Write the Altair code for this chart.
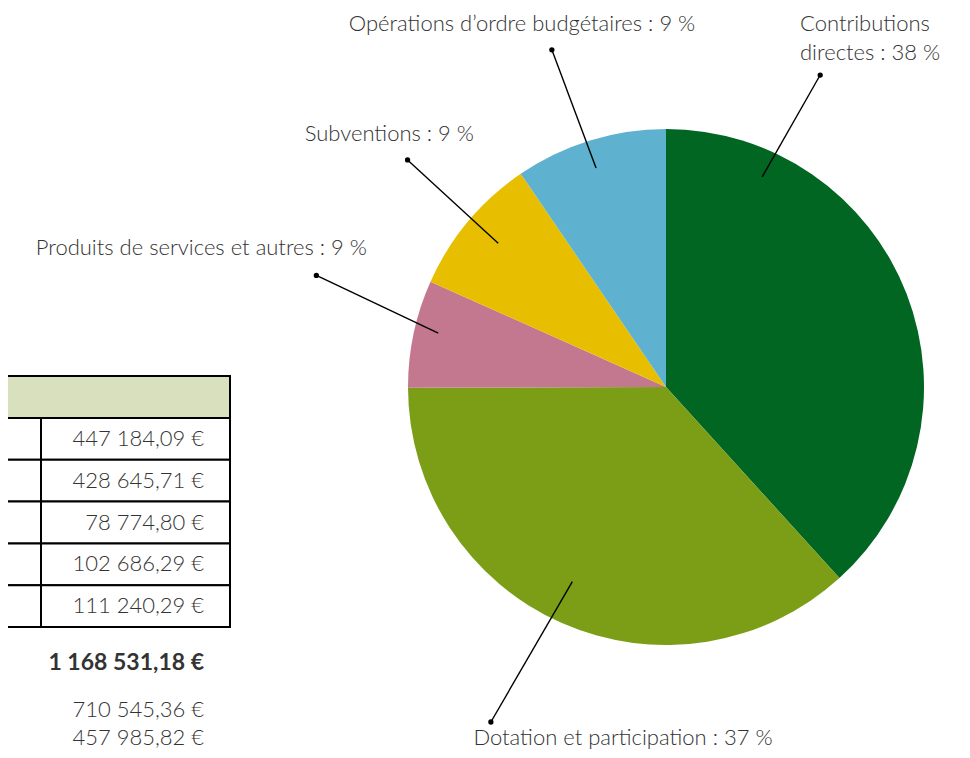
import altair as alt
import pandas as pd
import numpy as np

# ---------------- data ----------------
categories = [
    "Contributions directes",
    "Dotation et participation",
    "Produits de services et autres",
    "Subventions",
    "Opérations d’ordre budgétaires",
]
amounts = [447184.09, 428645.71, 78774.80, 102686.29, 111240.29]
pct_labels = ["38 %", "37 %", "9 %", "9 %", "9 %"]
colors = ["#006622", "#7b9e16", "#c4788f", "#e8bf00", "#5eb1cf"]
split_amounts = [710545.36, 457985.82]

# ---------------- layout ----------------
W, H = 954, 742
CX, CY, R = 658, 379, 258
FONT = "Lato"
FS = 22


def fr(v):
    return f"{v:,.2f}".replace(",", " ").replace(".", ",") + " €"


pie = pd.DataFrame({"cat": categories, "val": amounts, "ord": range(len(categories))})

# leader lines: (angle_in, r_in, angle_out, r_out) in degrees clockwise from top
leaders = [
    (24.6, 231, 26.3, 348),
    (205.7, 216, 207.6, 378),
    (283.3, 234, 287.7, 367),
    (310.6, 221, 311.3, 344),
    (342.3, 230, 341.3, 356),
]
rows = []
for (ai, ri, ao, ro) in leaders:
    ai, ao = np.radians(ai), np.radians(ao)
    rows.append({
        "x": CX + ri * np.sin(ai), "y": CY - ri * np.cos(ai),
        "x2": CX + ro * np.sin(ao), "y2": CY - ro * np.cos(ao),
    })
lead = pd.DataFrame(rows)

# label anchors
lab = pd.DataFrame([
    {"t": "Contributions", "x": 792, "y": 16, "a": "left"},
    {"t": f"directes : {pct_labels[0]}", "x": 792, "y": 45, "a": "left"},
    {"t": f"Dotation et participation : {pct_labels[1]}", "x": 615, "y": 730, "a": "center"},
    {"t": f"Produits de services et autres : {pct_labels[2]}", "x": 359, "y": 240, "a": "right"},
    {"t": f"Subventions : {pct_labels[3]}", "x": 466, "y": 126, "a": "right"},
    {"t": f"Opérations d’ordre budgétaires : {pct_labels[4]}", "x": 514, "y": 16, "a": "center"},
])

xs = alt.Scale(domain=[0, W], range=[0, W])
ys = alt.Scale(domain=[0, H], range=[0, H])

# ---------------- table ----------------
TOP, HH, RH = 368, 42, 41.8
TL, TD, TR, TXT = -20, 33, 222, 196
header = pd.DataFrame([{"x": TL, "x2": TR, "y": TOP, "y2": TOP + HH}])
cells = []
vals = []
for i, v in enumerate(amounts):
    y0 = TOP + HH + i * RH
    cells.append({"x": TL, "x2": TD, "y": y0, "y2": y0 + RH})
    cells.append({"x": TD, "x2": TR, "y": y0, "y2": y0 + RH})
    vals.append({"t": fr(v), "x": TXT, "y": y0 + RH / 2})
cells = pd.DataFrame(cells)
vals = pd.DataFrame(vals)
total = pd.DataFrame([{"t": fr(sum(amounts)), "x": TXT, "y": 655}])
splits = pd.DataFrame([
    {"t": fr(split_amounts[0]), "x": TXT, "y": 702},
    {"t": fr(split_amounts[1]), "x": TXT, "y": 730},
])

enc_rect = dict(
    x=alt.X("x:Q", scale=xs, axis=None), x2="x2:Q",
    y=alt.Y("y:Q", scale=ys, axis=None), y2="y2:Q",
)

header_l = alt.Chart(header).mark_rect(fill="#d9e0bd", stroke="black", strokeWidth=2).encode(**enc_rect)
cells_l = alt.Chart(cells).mark_rect(fill="white", stroke="black", strokeWidth=2).encode(**enc_rect)


def texts(df, weight=300, align="right", size=FS):
    return alt.Chart(df).mark_text(
        font=FONT, fontSize=size, fontWeight=weight, color="#333333",
        align=align, baseline="middle",
    ).encode(
        x=alt.X("x:Q", scale=xs, axis=None),
        y=alt.Y("y:Q", scale=ys, axis=None),
        text="t:N",
    )


vals_l = texts(vals)
total_l = texts(total, weight="bold", size=23)
splits_l = texts(splits)

# ---------------- pie ----------------
arc = alt.Chart(pie).mark_arc(radius=R).encode(
    theta=alt.Theta("val:Q", stack=True),
    order=alt.Order("ord:O"),
    color=alt.Color("cat:N", scale=alt.Scale(domain=categories, range=colors), legend=None),
    x=alt.value(CX),
    y=alt.value(CY),
)

lead_l = alt.Chart(lead).mark_rule(color="black", strokeWidth=1.4).encode(
    x=alt.X("x:Q", scale=xs, axis=None), y=alt.Y("y:Q", scale=ys, axis=None),
    x2="x2:Q", y2="y2:Q",
)
dots_l = alt.Chart(lead).mark_circle(color="black", opacity=1, size=28).encode(
    x=alt.X("x2:Q", scale=xs, axis=None), y=alt.Y("y2:Q", scale=ys, axis=None),
)

label_layers = []
for a in ["left", "center", "right"]:
    sub = lab[lab.a == a]
    label_layers.append(texts(sub, align=a))

chart = alt.layer(
    header_l, cells_l, vals_l, total_l, splits_l,
    arc, lead_l, dots_l, *label_layers,
).properties(
    width=W, height=H, padding=0, autosize=alt.AutoSizeParams(type="none"),
    background="white",
).configure_view(stroke=None)

chart.save("out.html", embed_options={"renderer": "svg", "actions": False})
